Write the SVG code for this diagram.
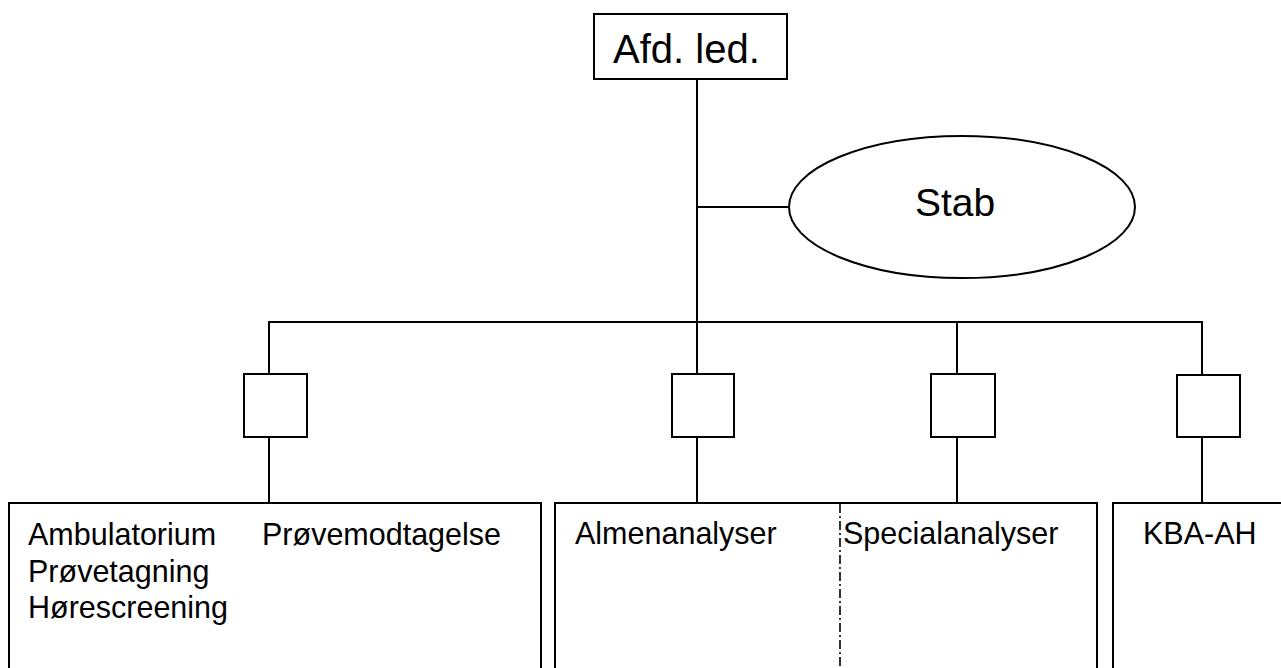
<svg xmlns="http://www.w3.org/2000/svg" width="1281" height="668" viewBox="0 0 1281 668">
  <style>
    .box { fill: #fff; stroke: #000; stroke-width: 2; }
    .wire { fill: none; stroke: #000; stroke-width: 2; }
    .divider { fill: none; stroke: #000; stroke-width: 1.6; stroke-dasharray: 9 3 2 3; }
    .lbl { font-family: "Liberation Sans", Arial, sans-serif; fill: #000; }
    .big { font-size: 40px; }
    .mid { font-size: 39px; }
    .small { font-size: 30.5px; }
  </style>
  <rect width="1281" height="668" fill="#fff"/>

  <g id="connectors">
    <line class="wire" x1="697" y1="79" x2="697" y2="322"/>
    <line class="wire" x1="697" y1="207" x2="789" y2="207"/>
    <line class="wire" x1="268" y1="322" x2="1203" y2="322"/>
    <line class="wire" x1="269" y1="321" x2="269" y2="374"/>
    <line class="wire" x1="697" y1="322" x2="697" y2="374"/>
    <line class="wire" x1="957" y1="322" x2="957" y2="374"/>
    <line class="wire" x1="1202" y1="321" x2="1202" y2="375"/>
    <line class="wire" x1="269" y1="437" x2="269" y2="503"/>
    <line class="wire" x1="697" y1="437" x2="697" y2="503"/>
    <line class="wire" x1="957" y1="437" x2="957" y2="503"/>
    <line class="wire" x1="1202" y1="437" x2="1202" y2="503"/>
  </g>

  <g id="afd-led">
    <rect class="box" x="594" y="14" width="193" height="65"/>
    <text class="lbl big" x="613" y="63">Afd. led.</text>
  </g>

  <g id="stab">
    <ellipse class="box" cx="962" cy="207" rx="173" ry="71"/>
    <text class="lbl mid" x="915" y="216">Stab</text>
  </g>

  <g id="unit-1">
    <rect class="box" x="244" y="374" width="63" height="63"/>
  </g>
  <g id="unit-2">
    <rect class="box" x="672" y="374" width="62" height="63"/>
  </g>
  <g id="unit-3">
    <rect class="box" x="931" y="374" width="64" height="63"/>
  </g>
  <g id="unit-4">
    <rect class="box" x="1177" y="375" width="63" height="62"/>
  </g>

  <g id="ambulatorium">
    <rect class="box" x="9" y="503" width="532" height="180"/>
    <text class="lbl small" x="28" y="545">Ambulatorium</text>
    <text class="lbl small" x="28" y="582">Prøvetagning</text>
    <text class="lbl small" x="28" y="618">Hørescreening</text>
    <text class="lbl small" x="262" y="545">Prøvemodtagelse</text>
  </g>

  <g id="analyser">
    <rect class="box" x="555" y="503" width="542" height="180"/>
    <line class="divider" x1="840" y1="504" x2="840" y2="668"/>
    <text class="lbl small" x="575" y="544">Almenanalyser</text>
    <text class="lbl small" x="843" y="544">Specialanalyser</text>
  </g>

  <g id="kba-ah">
    <rect class="box" x="1113" y="503" width="190" height="180"/>
    <text class="lbl small" x="1143" y="544">KBA-AH</text>
  </g>
</svg>
